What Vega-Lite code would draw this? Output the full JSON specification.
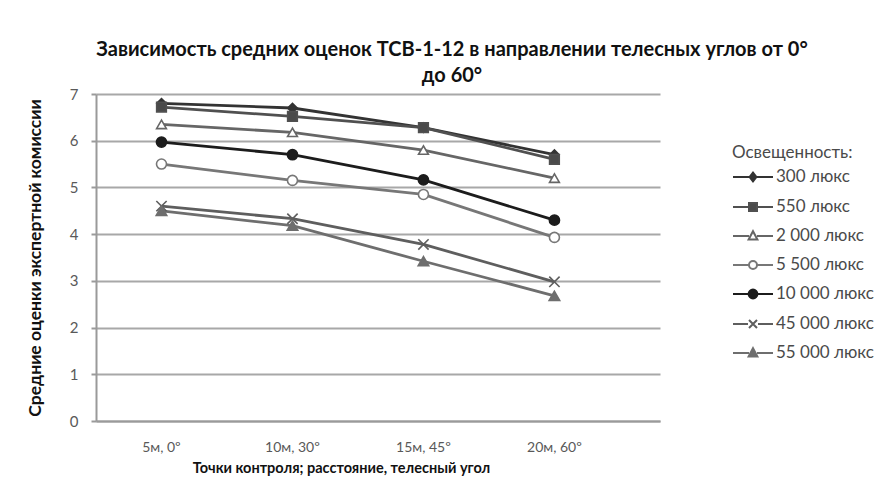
{
  "$schema": "https://vega.github.io/schema/vega-lite/v6.json",
  "autosize": {"type": "none"},
  "padding": {"left": 96, "top": 94, "right": 231, "bottom": 74},
  "width": 564,
  "height": 327,
  "background": "white",
  "config": {
    "view": {"stroke": null},
    "font": "Lato"
  },
  "title": {
    "text": ["Зависимость средних оценок ТСВ-1-12 в направлении телесных углов от 0°", "до 60°"],
    "anchor": "middle",
    "dx": 74,
    "offset": 1,
    "fontSize": 20,
    "font": "Lato",
    "fontWeight": "bold",
    "lineHeight": 26,
    "color": "#111111"
  },
  "data": {
    "values": [
      {"series": "300 люкс", "point": "5м, 0º", "value": 6.8},
      {"series": "300 люкс", "point": "10м, 30º", "value": 6.7},
      {"series": "300 люкс", "point": "15м, 45º", "value": 6.28},
      {"series": "300 люкс", "point": "20м, 60º", "value": 5.7},
      {"series": "550 люкс", "point": "5м, 0º", "value": 6.72},
      {"series": "550 люкс", "point": "10м, 30º", "value": 6.52},
      {"series": "550 люкс", "point": "15м, 45º", "value": 6.28},
      {"series": "550 люкс", "point": "20м, 60º", "value": 5.6},
      {"series": "2 000 люкс", "point": "5м, 0º", "value": 6.35},
      {"series": "2 000 люкс", "point": "10м, 30º", "value": 6.18},
      {"series": "2 000 люкс", "point": "15м, 45º", "value": 5.8},
      {"series": "2 000 люкс", "point": "20м, 60º", "value": 5.2},
      {"series": "5 500 люкс", "point": "5м, 0º", "value": 5.5},
      {"series": "5 500 люкс", "point": "10м, 30º", "value": 5.15},
      {"series": "5 500 люкс", "point": "15м, 45º", "value": 4.85},
      {"series": "5 500 люкс", "point": "20м, 60º", "value": 3.93},
      {"series": "10 000 люкс", "point": "5м, 0º", "value": 5.97},
      {"series": "10 000 люкс", "point": "10м, 30º", "value": 5.7},
      {"series": "10 000 люкс", "point": "15м, 45º", "value": 5.16},
      {"series": "10 000 люкс", "point": "20м, 60º", "value": 4.3},
      {"series": "45 000 люкс", "point": "5м, 0º", "value": 4.6},
      {"series": "45 000 люкс", "point": "10м, 30º", "value": 4.33},
      {"series": "45 000 люкс", "point": "15м, 45º", "value": 3.78},
      {"series": "45 000 люкс", "point": "20м, 60º", "value": 2.98},
      {"series": "55 000 люкс", "point": "5м, 0º", "value": 4.5},
      {"series": "55 000 люкс", "point": "10м, 30º", "value": 4.18},
      {"series": "55 000 люкс", "point": "15м, 45º", "value": 3.42},
      {"series": "55 000 люкс", "point": "20м, 60º", "value": 2.68}
    ]
  },
  "encoding": {
    "x": {
      "field": "point",
      "type": "nominal",
      "bandPosition": 0.5,
      "sort": ["5м, 0º", "10м, 30º", "15м, 45º", "20м, 60º"],
      "scale": {"type": "band", "domain": ["5м, 0º", "10м, 30º", "15м, 45º", "20м, 60º"], "paddingInner": 0, "paddingOuter": 0.153, "align": 0},
      "axis": {
        "title": "Точки контроля; расстояние, телесный угол",
        "titleFont": "Lato",
        "titleFontSize": 14.5,
        "titleFontWeight": "bold",
        "titleColor": "#111111",
        "titleX": 245,
        "titlePadding": 7,
        "labelAngle": 0,
        "labelFont": "Lato",
        "labelFontSize": 14,
        "labelColor": "#595959",
        "labelPadding": 19,
        "ticks": false,
        "grid": false,
        "domainColor": "#9a9a9a",
        "domainWidth": 2
      }
    },
    "y": {
      "field": "value",
      "type": "quantitative",
      "scale": {"domain": [0, 7], "nice": false, "zero": true},
      "axis": {
        "title": "Средние оценки экспертной комиссии",
        "titleFont": "Lato",
        "titleFontSize": 17.5,
        "titleFontWeight": "bold",
        "titleColor": "#111111",
        "titlePadding": 25,
        "values": [0, 1, 2, 3, 4, 5, 6, 7],
        "labelFont": "Lato",
        "labelFontSize": 15,
        "labelColor": "#595959",
        "labelPadding": 13,
        "tickSize": 5,
        "tickColor": "#9a9a9a",
        "tickWidth": 2,
        "gridColor": "#a8a8a8",
        "gridWidth": 2,
        "domainColor": "#9a9a9a",
        "domainWidth": 2
      }
    }
  },
  "layer": [
    {
      "mark": {"type": "line", "strokeWidth": 2.8},
      "encoding": {
        "detail": {"field": "series"},
        "color": {
          "field": "series",
          "type": "nominal",
          "scale": {
            "domain": ["300 люкс", "550 люкс", "2 000 люкс", "5 500 люкс", "10 000 люкс", "45 000 люкс", "55 000 люкс"],
            "range": ["#333333", "#505050", "#666666", "#777777", "#1c1c1c", "#5e5e5e", "#6e6e6e"]
          },
          "legend": null
        }
      }
    },
    {
      "mark": {"type": "point", "strokeWidth": 1.6, "opacity": 1},
      "encoding": {
        "color": {
          "field": "series",
          "type": "nominal",
          "scale": {
            "domain": ["300 люкс", "550 люкс", "2 000 люкс", "5 500 люкс", "10 000 люкс", "45 000 люкс", "55 000 люкс"],
            "range": ["#333333", "#505050", "#666666", "#777777", "#1c1c1c", "#5e5e5e", "#6e6e6e"]
          },
          "legend": null
        },
        "fill": {
          "field": "series",
          "type": "nominal",
          "scale": {
            "domain": ["300 люкс", "550 люкс", "2 000 люкс", "5 500 люкс", "10 000 люкс", "45 000 люкс", "55 000 люкс"],
            "range": ["#333333", "#4a4a4a", "#ffffff", "#ffffff", "#1c1c1c", "#5e5e5e", "#6e6e6e"]
          },
          "legend": null
        },
        "shape": {
          "field": "series",
          "type": "nominal",
          "scale": {
            "domain": ["300 люкс", "550 люкс", "2 000 люкс", "5 500 люкс", "10 000 люкс", "45 000 люкс", "55 000 люкс"],
            "range": ["diamond", "square", "triangle-up", "circle", "circle", "M-1,-1L1,1M-1,1L1,-1", "triangle-up"]
          },
          "legend": null
        },
        "size": {
          "field": "series",
          "type": "nominal",
          "scale": {
            "domain": ["300 люкс", "550 люкс", "2 000 люкс", "5 500 люкс", "10 000 люкс", "45 000 люкс", "55 000 люкс"],
            "range": [90, 110, 120, 170, 110, 90, 100]
          },
          "legend": null
        }
      }
    },
    {
      "mark": {"type": "point", "opacity": 0, "strokeWidth": 2},
      "encoding": {
        "color": {
          "field": "series",
          "type": "nominal",
          "title": "Освещенность:",
          "scale": {
            "domain": ["300 люкс", "550 люкс", "2 000 люкс", "5 500 люкс", "10 000 люкс", "45 000 люкс", "55 000 люкс"],
            "range": ["#333333", "#505050", "#666666", "#777777", "#1c1c1c", "#5e5e5e", "#6e6e6e"]
          },
          "legend": {
            "orient": "none",
            "legendX": 636,
            "legendY": 51,
            "title": "Освещенность:",
            "titleFont": "Lato",
            "titleFontSize": 17,
            "titleFontWeight": "normal",
            "titleColor": "#4a4a4a",
            "titlePadding": -6,
            "labelFont": "Lato",
            "labelFontSize": 17,
            "labelColor": "#4a4a4a",
            "labelOffset": 2,
            "symbolSize": 1600,
            "symbolOpacity": 1,
            "symbolStrokeWidth": 2,
            "rowPadding": 0
          }
        },
        "fill": {
          "field": "series",
          "type": "nominal",
          "title": "Освещенность:",
          "scale": {
            "domain": ["300 люкс", "550 люкс", "2 000 люкс", "5 500 люкс", "10 000 люкс", "45 000 люкс", "55 000 люкс"],
            "range": ["#333333", "#4a4a4a", "#ffffff", "#ffffff", "#1c1c1c", "#5e5e5e", "#6e6e6e"]
          }
        },
        "shape": {
          "field": "series",
          "type": "nominal",
          "title": "Освещенность:",
          "scale": {
            "domain": ["300 люкс", "550 люкс", "2 000 люкс", "5 500 люкс", "10 000 люкс", "45 000 люкс", "55 000 люкс"],
            "range": [
              "M-1,0L-0.2,0M0.2,0L1,0M0,-0.22L0.17,0L0,0.22L-0.17,0Z",
              "M-1,0L-0.2,0M0.2,0L1,0M-0.2,-0.2L0.2,-0.2L0.2,0.2L-0.2,0.2Z",
              "M-1,0L-0.2,0M0.2,0L1,0M0,-0.24L0.22,0.18L-0.22,0.18Z",
              "M-1,0L-0.2,0M0.2,0L1,0M0.2,0A0.2,0.2 0 1,1 -0.2,0A0.2,0.2 0 1,1 0.2,0Z",
              "M-1,0L-0.2,0M0.2,0L1,0M0.22,0A0.22,0.22 0 1,1 -0.22,0A0.22,0.22 0 1,1 0.22,0Z",
              "M-1,0L-0.25,0M0.25,0L1,0M-0.2,-0.2L0.2,0.2M-0.2,0.2L0.2,-0.2",
              "M-1,0L-0.2,0M0.2,0L1,0M0,-0.24L0.22,0.18L-0.22,0.18Z"
            ]
          }
        }
      }
    }
  ],
  "resolve": {
    "scale": {"color": "independent", "fill": "independent", "shape": "independent", "size": "independent"},
    "legend": {"color": "independent", "fill": "independent", "shape": "independent", "size": "independent"}
  }
}
